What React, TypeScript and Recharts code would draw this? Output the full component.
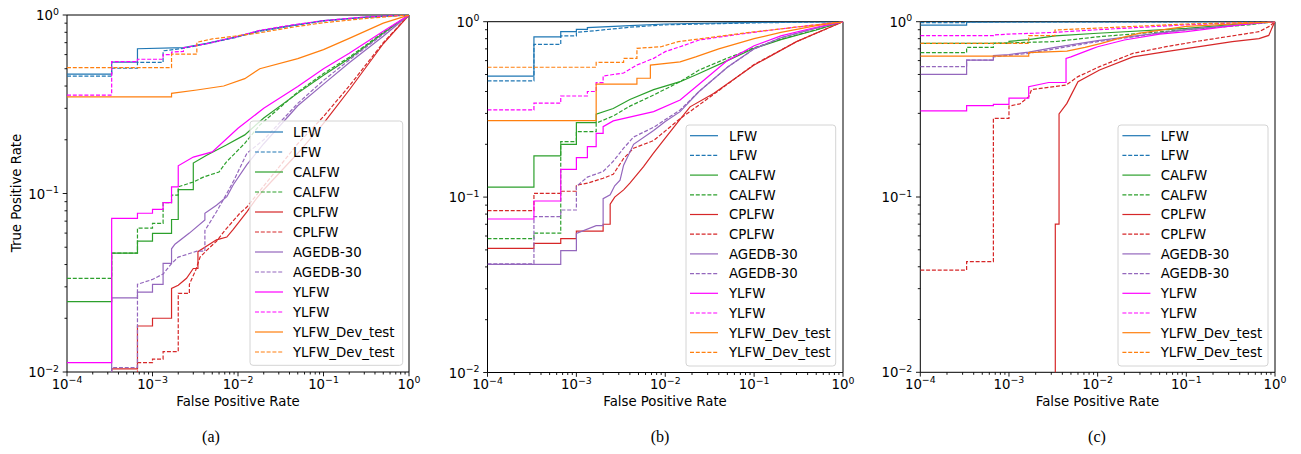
import { LineChart, Line, XAxis, YAxis, ReferenceArea } from "recharts";

type Curve = [number, number][];

// legend order = draw order: solid / dashed pairs per benchmark
const seriesLabels = ["LFW", "LFW", "CALFW", "CALFW", "CPLFW", "CPLFW", "AGEDB-30", "AGEDB-30", "YLFW", "YLFW", "YLFW_Dev_test", "YLFW_Dev_test"];
const seriesColors = ["#1f77b4", "#1f77b4", "#2ca02c", "#2ca02c", "#d62728", "#d62728", "#9467bd", "#9467bd", "#ff00ff", "#ff00ff", "#ff7f0e", "#ff7f0e"];
const seriesDashed = [false, true, false, true, false, true, false, true, false, true, false, true];

const xMajor = [1e-4, 1e-3, 1e-2, 1e-1, 1];
const yMajor = [1e-2, 1e-1, 1];
const minorMult = [2, 3, 4, 5, 6, 7, 8, 9];

// ---------- panel (a) : [fpr, tpr] vertices ----------
const aLfw: Curve = [[1e-4, .467], [3.33e-4, .467], [3.33e-4, .545], [6.67e-4, .545], [6.67e-4, .647], [2.3e-3, .656], [4.3e-3, .694], [9e-3, .75], [1.8e-2, .817], [4e-2, .87], [0.1, .93], [0.3, .97], [1, 1]];
const aLfwD: Curve = [[1e-4, .455], [3.33e-4, .455], [3.33e-4, .503], [6.67e-4, .503], [6.67e-4, .543], [1.33e-3, .543], [1.33e-3, .63], [2.3e-3, .65], [4.3e-3, .69], [9e-3, .745], [1.8e-2, .81], [4e-2, .865], [0.1, .925], [0.3, .97], [1, 1]];
const aCal: Curve = [[1e-4, .0248], [3.33e-4, .0248], [3.33e-4, .0463], [6.67e-4, .0463], [6.67e-4, .0541], [1e-3, .0541], [1e-3, .0598], [1.67e-3, .0598], [1.67e-3, .0715], [2e-3, .0715], [2e-3, .105], [3e-3, .105], [3e-3, .148], [4.3e-3, .164], [7.3e-3, .187], [1.2e-2, .213], [2e-2, .265], [5e-2, .365], [0.1, .46], [0.2, .57], [0.5, .79], [1, 1]];
const aCalD: Curve = [[1e-4, .0335], [3.33e-4, .0335], [3.33e-4, .0463], [6.67e-4, .0463], [6.67e-4, .064], [1e-3, .064], [1e-3, .068], [1.33e-3, .068], [1.33e-3, .089], [1.67e-3, .089], [1.67e-3, .098], [2e-3, .098], [2e-3, .109], [3e-3, .116], [4e-3, .124], [6e-3, .132], [7.3e-3, .15], [1.2e-2, .191], [1.8e-2, .242], [5e-2, .37], [0.1, .47], [0.2, .58], [0.5, .8], [1, 1]];
const aCpl: Curve = [[1e-4, .005], [3.33e-4, .005], [3.33e-4, .0104], [6.67e-4, .0104], [6.67e-4, .0181], [1e-3, .0181], [1e-3, .02], [1.67e-3, .02], [1.67e-3, .0294], [2e-3, .0306], [2.5e-3, .0335], [3e-3, .038], [3.4e-3, .038], [3.4e-3, .0472], [5.6e-3, .055], [7.4e-3, .057], [8.8e-3, .063], [1.27e-2, .079], [1.6e-2, .092], [2e-2, .105], [5e-2, .168], [0.1, .247], [0.2, .38], [0.5, .69], [1, 1]];
const aCplD: Curve = [[1e-4, .005], [6.67e-4, .005], [6.67e-4, .0113], [1e-3, .0113], [1e-3, .0118], [1.33e-3, .0118], [1.33e-3, .013], [2e-3, .013], [2e-3, .0276], [2.7e-3, .0276], [2.7e-3, .031], [3.2e-3, .0372], [3.6e-3, .044], [4.3e-3, .048], [5.6e-3, .054], [7e-3, .062], [8.5e-3, .069], [1.05e-2, .0775], [1.27e-2, .084], [1.7e-2, .1], [5e-2, .19], [0.1, .27], [0.2, .4], [0.5, .7], [1, 1]];
const aAge: Curve = [[1e-4, .005], [3.33e-4, .005], [3.33e-4, .026], [6.67e-4, .026], [6.67e-4, .028], [1e-3, .028], [1e-3, .031], [1.33e-3, .031], [1.33e-3, .0406], [1.67e-3, .0406], [1.67e-3, .049], [1.83e-3, .052], [2.7e-3, .06], [4.1e-3, .071], [4.1e-3, .0775], [5.6e-3, .086], [7.4e-3, .096], [8.8e-3, .112], [1.27e-2, .145], [2e-2, .19], [5e-2, .31], [0.1, .41], [0.2, .54], [0.5, .76], [1, 1]];
const aAgeD: Curve = [[1e-4, .005], [3.33e-4, .005], [3.33e-4, .0106], [6.67e-4, .0106], [6.67e-4, .031], [1e-3, .033], [1.33e-3, .0354], [1.67e-3, .0405], [2e-3, .044], [3.3e-3, .0475], [4.1e-3, .0475], [4.1e-3, .062], [5.6e-3, .079], [7.4e-3, .1], [9e-3, .119], [1.27e-2, .168], [2e-2, .2], [5e-2, .32], [0.1, .43], [0.2, .56], [0.5, .78], [1, 1]];
const aYl: Curve = [[1e-4, .0113], [3.33e-4, .0113], [3.33e-4, .0726], [6.67e-4, .0726], [6.67e-4, .0775], [1e-3, .0775], [1e-3, .0815], [1.33e-3, .0815], [1.33e-3, .089], [1.67e-3, .089], [1.67e-3, .109], [2e-3, .109], [2e-3, .143], [3e-3, .16], [5e-3, .171], [1e-2, .232], [2e-2, .3], [5e-2, .397], [0.1, .5], [0.2, .61], [0.5, .81], [1, 1]];
const aYlD: Curve = [[1e-4, .356], [3.33e-4, .356], [3.33e-4, .548], [6.67e-4, .548], [6.67e-4, .565], [1.33e-3, .565], [1.33e-3, .6], [1.67e-3, .6], [1.67e-3, .62], [2.3e-3, .625], [2.3e-3, .655], [4.3e-3, .69], [9e-3, .75], [1.8e-2, .82], [4e-2, .875], [0.1, .93], [0.3, .975], [1, 1]];
const aDev: Curve = [[1e-4, .348], [1.67e-3, .348], [1.67e-3, .364], [3.3e-3, .38], [6.8e-3, .4], [1.2e-2, .44], [1.8e-2, .5], [5e-2, .57], [0.1, .64], [0.2, .74], [0.5, .9], [1, 1]];
const aDevD: Curve = [[1e-4, .507], [1.67e-3, .507], [1.67e-3, .603], [3.3e-3, .603], [3.3e-3, .703], [5e-3, .735], [9e-3, .76], [1.8e-2, .795], [4e-2, .85], [0.1, .905], [0.3, .955], [1, 1]];

// ---------- panel (b) ----------
const bLfw: Curve = [[1e-4, .49], [3.33e-4, .49], [3.33e-4, .82], [6.67e-4, .82], [6.67e-4, .877], [1e-3, .877], [1e-3, .905], [1.33e-3, .905], [1.33e-3, .925], [4e-3, .95], [1e-2, .97], [0.1, .99], [1, 1]];
const bLfwD: Curve = [[1e-4, .46], [3.33e-4, .46], [3.33e-4, .743], [6.67e-4, .743], [6.67e-4, .83], [1e-3, .83], [1e-3, .87], [1.67e-3, .89], [4e-3, .93], [1e-2, .96], [0.1, .985], [1, 1]];
const bCal: Curve = [[1e-4, .114], [3.33e-4, .114], [3.33e-4, .172], [6.67e-4, .172], [6.67e-4, .2], [1e-3, .2], [1e-3, .266], [1.67e-3, .266], [1.67e-3, .297], [2.6e-3, .32], [4e-3, .36], [7.4e-3, .41], [1.47e-2, .455], [2.4e-2, .507], [5e-2, .6], [0.1, .705], [0.2, .79], [0.5, .897], [1, 1]];
const bCalD: Curve = [[1e-4, .058], [3.33e-4, .058], [3.33e-4, .0624], [6.67e-4, .0624], [6.67e-4, .207], [1e-3, .207], [1e-3, .236], [1.67e-3, .236], [1.67e-3, .264], [2.6e-3, .29], [4e-3, .33], [7.4e-3, .382], [1.47e-2, .455], [2.4e-2, .53], [5e-2, .62], [0.1, .71], [0.2, .795], [0.5, .9], [1, 1]];
const bCpl: Curve = [[1e-4, .051], [3.33e-4, .051], [3.33e-4, .0545], [6.67e-4, .0545], [6.67e-4, .058], [1e-3, .058], [1e-3, .064], [2e-3, .064], [2e-3, .07], [2.4e-3, .07], [2.4e-3, .091], [2.7e-3, .1], [3.4e-3, .11], [4e-3, .12], [5.7e-3, .149], [7.3e-3, .177], [9.5e-3, .21], [1.35e-2, .263], [1.9e-2, .327], [3.5e-2, .39], [0.1, .566], [0.3, .77], [1, 1]];
const bCplD: Curve = [[1e-4, .0837], [3.33e-4, .0837], [3.33e-4, .105], [6.67e-4, .105], [6.67e-4, .108], [1e-3, .108], [1e-3, .117], [1.33e-3, .12], [2e-3, .128], [2.6e-3, .135], [3.4e-3, .166], [4.4e-3, .19], [7.4e-3, .21], [1.47e-2, .28], [2.4e-2, .335], [5e-2, .44], [0.1, .57], [0.3, .77], [1, 1]];
const bAge: Curve = [[1e-4, .0414], [6.67e-4, .0414], [6.67e-4, .0495], [1e-3, .0495], [1e-3, .062], [1.67e-3, .0687], [2e-3, .0687], [2e-3, .098], [2.4e-3, .103], [2.7e-3, .116], [3.1e-3, .125], [3.4e-3, .152], [4.4e-3, .2], [7.4e-3, .24], [1e-2, .27], [1.47e-2, .307], [2.4e-2, .4], [5e-2, .55], [0.1, .7], [0.2, .81], [0.5, .92], [1, 1]];
const bAgeD: Curve = [[1e-4, .0417], [3.33e-4, .0417], [3.33e-4, .0774], [6.67e-4, .0774], [6.67e-4, .0844], [1e-3, .0844], [1e-3, .115], [1.33e-3, .13], [2e-3, .14], [2.6e-3, .16], [3.4e-3, .19], [4.4e-3, .22], [7.4e-3, .25], [1.47e-2, .314], [2.4e-2, .4], [5e-2, .55], [0.1, .7], [0.2, .81], [0.5, .92], [1, 1]];
const bYl: Curve = [[1e-4, .075], [3.33e-4, .075], [3.33e-4, .095], [6.67e-4, .095], [6.67e-4, .144], [1e-3, .144], [1e-3, .168], [1.33e-3, .168], [1.33e-3, .194], [1.67e-3, .194], [1.67e-3, .231], [2e-3, .231], [2e-3, .252], [2.6e-3, .272], [7.4e-3, .307], [1.47e-2, .358], [2.4e-2, .44], [5e-2, .6], [0.1, .73], [0.2, .83], [0.5, .93], [1, 1]];
const bYlD: Curve = [[1e-4, .314], [3.33e-4, .314], [3.33e-4, .343], [6.67e-4, .343], [6.67e-4, .377], [1.33e-3, .377], [1.33e-3, .4], [1.67e-3, .4], [1.67e-3, .449], [2e-3, .449], [2e-3, .49], [2.6e-3, .5], [3.4e-3, .51], [4.8e-3, .566], [7.4e-3, .618], [1e-2, .675], [1.47e-2, .72], [2.4e-2, .786], [5e-2, .83], [0.1, .87], [0.2, .91], [0.5, .96], [1, 1]];
const bDev: Curve = [[1e-4, .273], [1.67e-3, .273], [1.67e-3, .441], [4.8e-3, .441], [4.8e-3, .476], [6.8e-3, .476], [6.8e-3, .566], [1.47e-2, .59], [2.2e-2, .63], [4e-2, .7], [0.1, .8], [0.2, .87], [0.5, .95], [1, 1]];
const bDevD: Curve = [[1e-4, .55], [1.67e-3, .55], [1.67e-3, .587], [3.4e-3, .587], [3.4e-3, .618], [4.8e-3, .618], [4.8e-3, .705], [9e-3, .72], [1.4e-2, .77], [3e-2, .81], [0.1, .875], [0.2, .91], [0.5, .96], [1, 1]];

// ---------- panel (c) ----------
const cLfw: Curve = [[1e-4, .957], [3.33e-4, .957], [3.33e-4, .995], [1, 1]];
const cLfwD: Curve = [[1e-4, .987], [3.33e-4, .987], [3.33e-4, .997], [1, 1]];
const cCal: Curve = [[1e-4, .753], [1e-3, .753], [1e-3, .773], [1.67e-3, .79], [3.3e-3, .83], [1e-2, .859], [0.1, .917], [0.5, .98], [1, 1]];
const cCalD: Curve = [[1e-4, .666], [3.33e-4, .666], [3.33e-4, .714], [6.67e-4, .714], [6.67e-4, .753], [3.3e-3, .77], [1e-2, .82], [0.1, .9], [0.5, .96], [1, 1]];
const cCpl: Curve = [[1e-4, .001], [3.33e-3, .001], [3.33e-3, .07], [3.67e-3, .07], [3.67e-3, .298], [4.5e-3, .342], [5e-3, .38], [6e-3, .455], [1.05e-2, .53], [2.5e-2, .63], [5.9e-2, .675], [0.14, .72], [0.33, .769], [0.66, .8], [0.85, .835], [0.95, .95], [1, 1]];
const cCplD: Curve = [[1e-4, .0383], [3.33e-4, .0383], [3.33e-4, .0428], [6.67e-4, .0428], [6.67e-4, .281], [1e-3, .281], [1e-3, .33], [1.33e-3, .34], [1.67e-3, .373], [1.8e-3, .41], [4.4e-3, .435], [6e-3, .486], [1.05e-2, .554], [2.5e-2, .66], [5.9e-2, .72], [0.14, .776], [0.33, .83], [0.66, .877], [0.85, .937], [1, 1]];
const cAge: Curve = [[1e-4, .501], [3.33e-4, .501], [3.33e-4, .604], [6.67e-4, .604], [6.67e-4, .64], [1e-3, .65], [1.67e-3, .67], [3.3e-3, .713], [1e-2, .78], [0.1, .9], [0.5, .97], [1, 1]];
const cAgeD: Curve = [[1e-4, .554], [3.33e-4, .554], [3.33e-4, .604], [6.67e-4, .604], [6.67e-4, .63], [1.67e-3, .66], [3.3e-3, .7], [1e-2, .77], [0.1, .9], [0.5, .97], [1, 1]];
const cYl: Curve = [[1e-4, .31], [3.33e-4, .31], [3.33e-4, .332], [6.67e-4, .332], [6.67e-4, .338], [1e-3, .338], [1e-3, .366], [1.67e-3, .366], [1.67e-3, .426], [2.8e-3, .45], [4.4e-3, .45], [4.4e-3, .618], [5e-3, .63], [8.6e-3, .7], [1e-2, .72], [2e-2, .786], [5e-2, .85], [0.1, .877], [0.5, .97], [1, 1]];
const cYlD: Curve = [[1e-4, .832], [6.67e-4, .832], [6.67e-4, .84], [1e-3, .85], [2e-3, .86], [3.3e-3, .87], [1e-2, .9], [0.1, .96], [1, 1]];
const cDev: Curve = [[1e-4, .637], [1.67e-3, .637], [1.67e-3, .666], [4.5e-3, .68], [7.2e-3, .713], [1.1e-2, .753], [1.7e-2, .8], [3e-2, .86], [0.1, .94], [0.5, .98], [1, 1]];
const cDevD: Curve = [[1e-4, .753], [1.67e-3, .753], [1.67e-3, .832], [3.3e-3, .832], [3.3e-3, .896], [1e-2, .92], [0.1, .97], [1, 1]];

const curvesA = [aLfw, aLfwD, aCal, aCalD, aCpl, aCplD, aAge, aAgeD, aYl, aYlD, aDev, aDevD];
const curvesB = [bLfw, bLfwD, bCal, bCalD, bCpl, bCplD, bAge, bAgeD, bYl, bYlD, bDev, bDevD];
const curvesC = [cLfw, cLfwD, cCal, cCalD, cCpl, cCplD, cAge, cAgeD, cYl, cYlD, cDev, cDevD];

const FONT = "'DejaVu Sans', sans-serif";
const LINE_W = 1.2;
const DASH = "4 1.8";

const withMinors = (majors: number[]) => {
  const out: number[] = [];
  majors.forEach((m, i) => {
    out.push(m);
    if (i < majors.length - 1) minorMult.forEach((k) => out.push(m * k));
  });
  return out;
};
const xTicks = withMinors(xMajor);
const yTicks = withMinors(yMajor);

const isMajor = (v: number) => Math.abs(Math.log10(v) - Math.round(Math.log10(v))) < 1e-6;
const expLabel = (v: number) => {
  const e = Math.round(Math.log10(v));
  return e < 0 ? `\u2212${-e}` : `${e}`;
};

function XTick(props: any) {
  const { x, y, payload } = props;
  const major = isMajor(payload.value);
  return (
    <g>
      <line x1={x} x2={x} y1={y} y2={y + (major ? 4.3 : 2.5)} stroke="#000" strokeWidth={0.9} />
      {major && (
        <text x={x} y={y + 16.5} textAnchor="middle" fontSize={13.3} fontFamily={FONT} fill="#000">
          10
          <tspan dy={-5.5} fontSize={9.4}>{expLabel(payload.value)}</tspan>
        </text>
      )}
    </g>
  );
}

function YTick(props: any) {
  const { x, y, payload } = props;
  const major = isMajor(payload.value);
  return (
    <g>
      <line x1={x} x2={x - (major ? 4.3 : 2.5)} y1={y} y2={y} stroke="#000" strokeWidth={0.9} />
      {major && (
        <text x={x - 8} y={y + 5} textAnchor="end" fontSize={13.3} fontFamily={FONT} fill="#000">
          10
          <tspan dy={-5.5} fontSize={9.4}>{expLabel(payload.value)}</tspan>
        </text>
      )}
    </g>
  );
}

interface LegendBox {
  left: number;
  top: number;
  width: number;
  height: number;
  first: number;
  step: number;
  swatchX: number;
  textX: number;
}

function RocLegend({ box }: { box: LegendBox }) {
  return (
    <svg
      width={box.width + 2}
      height={box.height + 2}
      style={{ position: "absolute", left: box.left - 1, top: box.top - 1 }}
    >
      <rect x={1} y={1} width={box.width} height={box.height} rx={3} fill="#fff" fillOpacity={0.8} stroke="#d4d4d4" strokeWidth={1} />
      {seriesLabels.map((name, i) => {
        const cy = 1 + box.first + i * box.step;
        return (
          <g key={i}>
            <line
              x1={1 + box.swatchX}
              x2={1 + box.swatchX + 28}
              y1={cy}
              y2={cy}
              stroke={seriesColors[i]}
              strokeWidth={LINE_W}
              strokeDasharray={seriesDashed[i] ? DASH : undefined}
            />
            <text x={1 + box.textX} y={cy + 4.8} fontSize={13.3} fontFamily={FONT} fill="#000">
              {name}
            </text>
          </g>
        );
      })}
    </svg>
  );
}

interface PanelProps {
  curves: Curve[];
  left: number;
  width: number;
  margin: { top: number; right: number; bottom: number; left: number };
  yAxisWidth: number;
  legend: LegendBox;
  caption: string;
  captionX: number;
  plotCenterX: number;
}

function RocPanel({ curves, left, width, margin, yAxisWidth, legend, caption, captionX, plotCenterX }: PanelProps) {
  return (
    <>
      <div style={{ position: "absolute", left, top: 0 }}>
        <LineChart width={width} height={420} margin={margin}>
          <XAxis
            dataKey="x"
            type="number"
            scale="log"
            domain={[1e-4, 1]}
            allowDataOverflow
            ticks={xTicks}
            interval={0}
            tick={<XTick />}
            tickLine={false}
            axisLine={false}
            tickSize={0}
            tickMargin={0}
            height={40}
          />
          <YAxis
            dataKey="y"
            type="number"
            scale="log"
            domain={[0.01, 1]}
            allowDataOverflow
            ticks={yTicks}
            interval={0}
            tick={<YTick />}
            tickLine={false}
            axisLine={false}
            tickSize={0}
            tickMargin={0}
            width={yAxisWidth}
          />
          {curves.map((c, i) => (
            <Line
              key={i}
              data={c.map(([x, y]) => ({ x, y }))}
              dataKey="y"
              type="linear"
              stroke={seriesColors[i]}
              strokeWidth={LINE_W}
              strokeDasharray={seriesDashed[i] ? DASH : undefined}
              dot={false}
              activeDot={false}
              isAnimationActive={false}
            />
          ))}
          <ReferenceArea x1={1e-4} x2={1} y1={0.01} y2={1} fill="none" stroke="#000" strokeWidth={1} ifOverflow="visible" />
        </LineChart>
      </div>
      <RocLegend box={legend} />
      <div
        style={{
          position: "absolute",
          left: plotCenterX - 100,
          width: 200,
          top: 393,
          textAlign: "center",
          fontFamily: FONT,
          fontSize: 13.3,
          lineHeight: "17px",
        }}
      >
        False Positive Rate
      </div>
      <div
        style={{
          position: "absolute",
          left: captionX - 30,
          width: 60,
          top: 427,
          textAlign: "center",
          fontFamily: "'Liberation Serif', 'Times New Roman', serif",
          fontSize: 16,
          lineHeight: "19px",
        }}
      >
        {caption}
      </div>
    </>
  );
}

export default function App() {
  return (
    <div style={{ position: "absolute", left: 0, top: 0, width: 1301, height: 454, background: "#fff", overflow: "hidden" }}>
      <RocPanel
        curves={curvesA}
        left={0}
        width={430}
        margin={{ top: 15, right: 21, bottom: 8, left: 7 }}
        yAxisWidth={60}
        legend={{ left: 250, top: 120.7, width: 152.7, height: 244.3, first: 11, step: 20, swatchX: 5, textX: 43 }}
        caption="(a)"
        captionX={211}
        plotCenterX={238}
      />
      <RocPanel
        curves={curvesB}
        left={430}
        width={430}
        margin={{ top: 21.7, right: 17, bottom: 7.5, left: 7.5 }}
        yAxisWidth={50}
        legend={{ left: 686, top: 125, width: 149.7, height: 241, first: 10.7, step: 19.7, swatchX: 4, textX: 43 }}
        caption="(b)"
        captionX={660}
        plotCenterX={665}
      />
      <RocPanel
        curves={curvesC}
        left={860}
        width={441}
        margin={{ top: 21.7, right: 26, bottom: 7.7, left: 10.3 }}
        yAxisWidth={50}
        legend={{ left: 1118.3, top: 125, width: 150, height: 241, first: 10.7, step: 19.7, swatchX: 4.4, textX: 42.7 }}
        caption="(c)"
        captionX={1097}
        plotCenterX={1097.5}
      />
      <div
        style={{
          position: "absolute",
          left: 17 - 100,
          top: 193 - 9,
          width: 200,
          height: 18,
          textAlign: "center",
          fontFamily: FONT,
          fontSize: 13.3,
          lineHeight: "18px",
          transform: "rotate(-90deg)",
        }}
      >
        True Positive Rate
      </div>
    </div>
  );
}
